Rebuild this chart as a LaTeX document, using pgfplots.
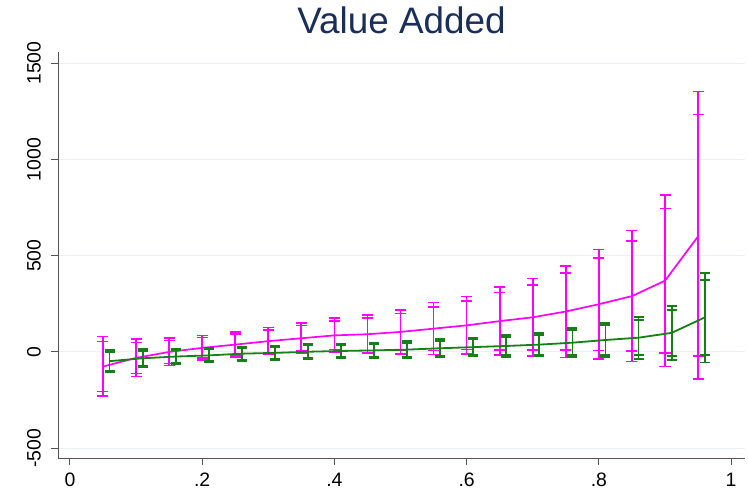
\documentclass[border=0pt]{standalone}
\usepackage{pgfplots}
\pgfplotsset{compat=1.18}
\usepackage{pgfplotstable}
\usepackage{fontspec}
\setmainfont{Liberation Sans}
\definecolor{ttl}{RGB}{26,46,90}
\definecolor{mag}{RGB}{255,0,255}
\definecolor{grn}{RGB}{22,128,22}
\definecolor{gridc}{RGB}{232,240,243}
\definecolor{axc}{RGB}{85,85,85}

\pgfplotstableread{
x m lo95 hi95 lo90 hi90
0.05 -76 -229 80 -206 54
0.10 -31 -128 66 -112 50
0.15 0 -71 71 -60 60
0.20 21 -42 85 -33 75
0.25 38 -26 102 -16 92
0.30 56 -14 126 -3 115
0.35 71 -7 149 5 137
0.40 86 -2 175 12 160
0.45 92 -7 192 8 176
0.50 104 -10 218 8 200
0.55 121 -14 256 8 234
0.60 138 -10 287 13 263
0.65 160 -17 336 11 309
0.70 180 -22 381 11 349
0.75 210 -28 447 10 410
0.80 248 -38 533 8 488
0.85 290 -50 630 4 576
0.90 370 -76 816 -5 745
0.95 600 -140 1352 -21 1233
}\magdata

\pgfplotstableread{
x m lo95 hi95 lo90 hi90
0.06 -48 -106 10 -97 1
0.11 -33 -80 14 -72 6
0.16 -24 -64 17 -58 10
0.21 -18 -54 19 -49 13
0.26 -9 -45 28 -40 22
0.31 -5 -42 33 -37 27
0.36 1 -38 40 -32 34
0.41 5 -33 42 -27 37
0.46 8 -33 48 -26 42
0.51 12 -31 55 -24 48
0.56 19 -28 66 -20 58
0.61 25 -24 74 -16 66
0.66 31 -26 87 -17 79
0.71 38 -24 100 -14 90
0.76 48 -28 123 -16 112
0.81 62 -28 152 -14 138
0.86 74 -36 183 -18 166
0.91 99 -42 239 -19 217
0.96 179 -55 412 -17 375
}\grndata

\begin{document}
\begin{tikzpicture}
\begin{axis}[
  name=ax,
  scale only axis,
  width=687bp, height=406bp,
  xmin=-0.018, xmax=1.021,
  ymin=-551, ymax=1558,
  axis x line*=bottom, axis y line*=left,
  axis line style={axc, line width=0.9bp},
  xtick={0,0.2,0.4,0.6,0.8,1},
  xticklabels={0,.2,.4,.6,.8,1},
  ytick={-500,0,500,1000,1500},
  yticklabels={-500,0,500,1000,1500},
  tick align=outside,
  major tick length=7bp,
  tick style={axc, line width=0.9bp},
  ymajorgrids,
  major grid style={gridc, line width=1bp},
  ticklabel style={font=\fontsize{19.5}{21}\selectfont, text=black},
  yticklabel style={rotate=90, anchor=south, inner sep=0pt, yshift=10bp},
  xticklabel style={anchor=north, inner sep=0pt, yshift=-8bp},
  title={Value Added},
  title style={at={(0.5,1)}, anchor=base, yshift=13bp, inner sep=0pt,
    font=\fontsize{37}{40}\selectfont, text=ttl},
  clip=false,
]
% magenta: line + 95% bars
\addplot[mag, line width=1.7bp, mark=none,
  error bars/.cd, y dir=both, y explicit,
  error bar style={draw=mag, line width=1.7bp},
  error mark options={draw=mag, line width=1.6bp, mark size=5.5bp, rotate=90}]
  table[x=x, y=m, y error plus expr=\thisrow{hi95}-\thisrow{m},
        y error minus expr=\thisrow{m}-\thisrow{lo95}] {\magdata};
% magenta: 90% caps
\addplot[draw=none, mark=none,
  error bars/.cd, y dir=both, y explicit,
  error bar style={draw=mag, line width=1.7bp},
  error mark options={draw=mag, line width=1.6bp, mark size=5.5bp, rotate=90}]
  table[x=x, y=m, y error plus expr=\thisrow{hi90}-\thisrow{m},
        y error minus expr=\thisrow{m}-\thisrow{lo90}] {\magdata};
% green: line + 95% bars
\addplot[grn, line width=1.8bp, mark=none,
  error bars/.cd, y dir=both, y explicit,
  error bar style={draw=grn, line width=1.8bp},
  error mark options={draw=grn, line width=1.9bp, mark size=5bp, rotate=90}]
  table[x=x, y=m, y error plus expr=\thisrow{hi95}-\thisrow{m},
        y error minus expr=\thisrow{m}-\thisrow{lo95}] {\grndata};
% green: 90% caps
\addplot[draw=none, mark=none,
  error bars/.cd, y dir=both, y explicit,
  error bar style={draw=grn, line width=1.8bp},
  error mark options={draw=grn, line width=1.9bp, mark size=5bp, rotate=90}]
  table[x=x, y=m, y error plus expr=\thisrow{hi90}-\thisrow{m},
        y error minus expr=\thisrow{m}-\thisrow{lo90}] {\grndata};
\end{axis}
\pgfresetboundingbox
\path (ax.south west) ++(-58bp,-38bp) rectangle ++(748bp,496bp);
\end{tikzpicture}
\end{document}
